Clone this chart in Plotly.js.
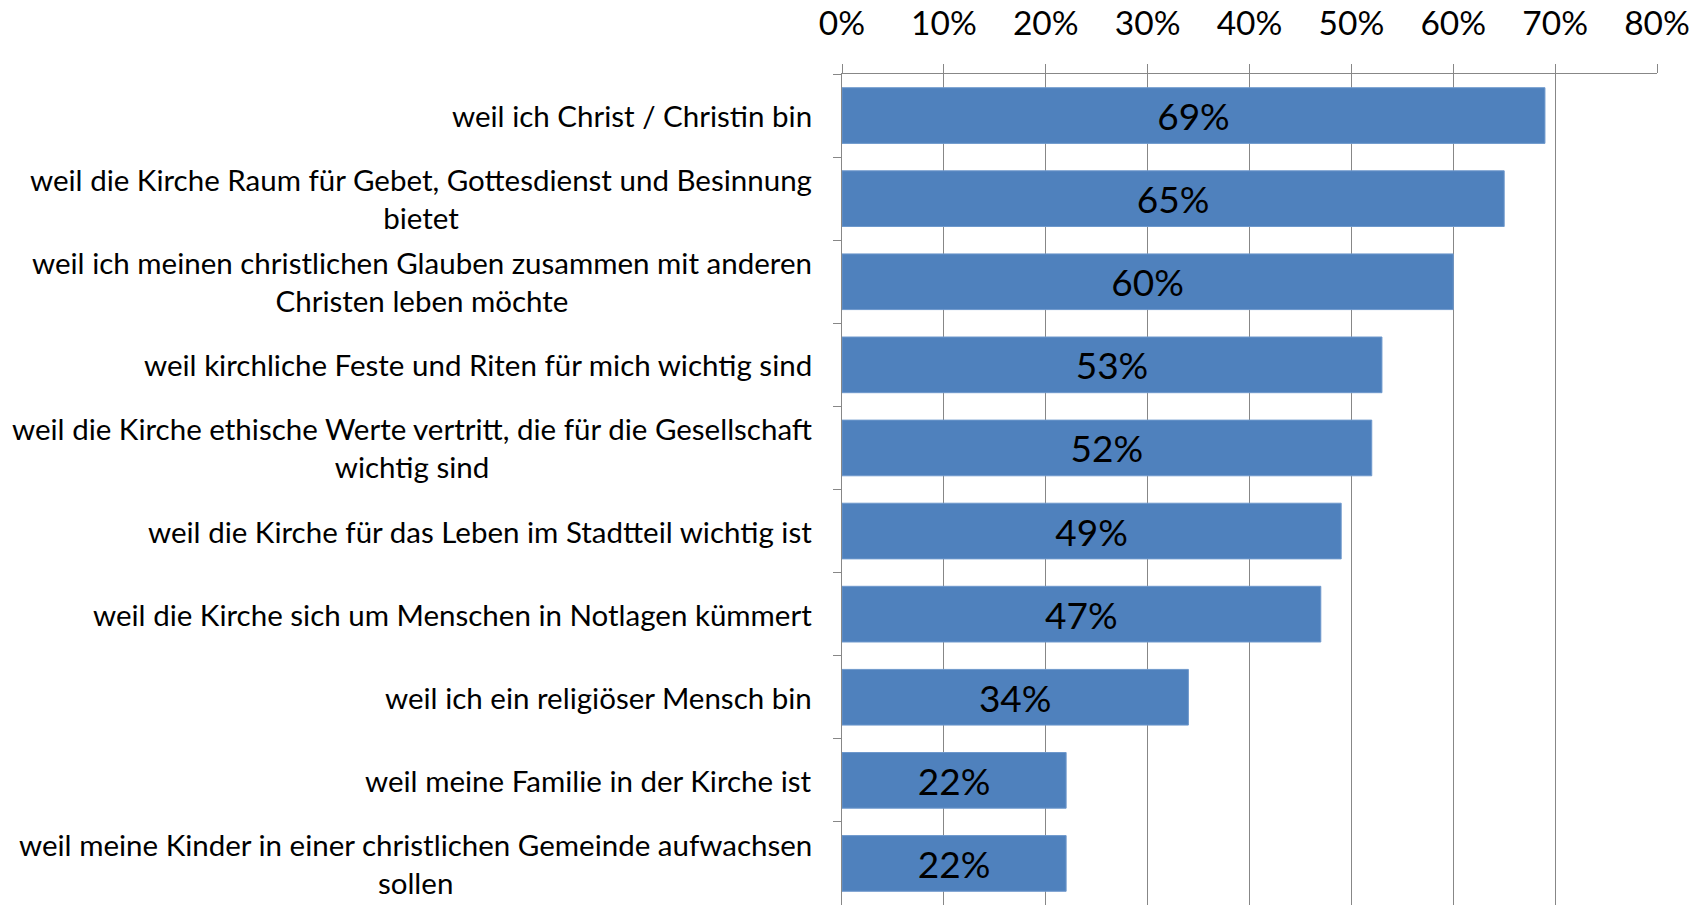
<!DOCTYPE html>
<html>
<head>
<meta charset="utf-8">
<script src="https://cdn.plot.ly/plotly-3.0.1.min.js"></script>
<style>
html,body{margin:0;padding:0;background:#fff;}
#chart{width:1707px;height:905px;}
</style>
</head>
<body>
<div id="chart"></div>
<script>
const categories = [
  "weil ich Christ / Christin bin",
  "weil die Kirche Raum für Gebet, Gottesdienst und Besinnung<br>bietet",
  "weil ich meinen christlichen Glauben zusammen mit anderen<br>Christen leben möchte",
  "weil kirchliche Feste und Riten für mich wichtig sind",
  "weil die Kirche ethische Werte vertritt, die für die Gesellschaft<br>wichtig sind",
  "weil die Kirche für das Leben im Stadtteil wichtig ist",
  "weil die Kirche sich um Menschen in Notlagen kümmert",
  "weil ich ein religiöser Mensch bin",
  "weil meine Familie in der Kirche ist",
  "weil meine Kinder in einer christlichen Gemeinde aufwachsen<br>sollen"
];
const values = [69, 65, 60, 53, 52, 49, 47, 34, 22, 22];
const tickValues = [0, 10, 20, 30, 40, 50, 60, 70, 80];
const tickLabels = ["0%", "10%", "20%", "30%", "40%", "50%", "60%", "70%", "80%"];

const FONT = "Lato, 'Open Sans', sans-serif";
const GRID = "#878787";
const ids = categories.map((c, i) => i);

const trace = {
  type: "bar",
  orientation: "h",
  y: ids,
  x: values,
  width: 0.67,
  marker: {color: "#4F81BD", line: {color: "#6E98CC", width: 1}},
  text: values.map(v => v + "%"),
  textposition: "inside",
  insidetextanchor: "middle",
  textangle: 0,
  constraintext: "none",
  textfont: {family: FONT, size: 37, color: "#000"},
  hoverinfo: "skip"
};

const annotations = categories.map((c, i) => ({
  xref: "paper", yref: "y",
  x: 0, y: i,
  xanchor: "right", yanchor: "middle",
  xshift: -28,
  align: "center",
  showarrow: false,
  text: c,
  font: {family: FONT, size: 29.5, color: "#000"}
}));

const layout = {
  width: 1707, height: 905,
  margin: {l: 842, r: 50, t: 74, b: 0, pad: 0},
  paper_bgcolor: "#fff",
  plot_bgcolor: "#fff",
  showlegend: false,
  bargap: 0.33,
  font: {family: FONT, color: "#000"},
  xaxis: {
    side: "top",
    range: [0, 80],
    tickvals: tickValues,
    ticktext: tickLabels,
    showgrid: true,
    gridcolor: GRID,
    gridwidth: 1,
    showline: true,
    linecolor: GRID,
    linewidth: 1,
    ticks: "outside",
    ticklen: 9,
    tickcolor: GRID,
    ticklabelstandoff: 16,
    tickfont: {family: FONT, size: 33.5, color: "#000"},
    zeroline: false,
    fixedrange: true
  },
  yaxis: {
    type: "linear",
    range: [9.5, -0.5],
    tickvals: [-0.5, 0.5, 1.5, 2.5, 3.5, 4.5, 5.5, 6.5, 7.5, 8.5, 9.5],
    showticklabels: false,
    ticks: "outside",
    ticklen: 8,
    tickcolor: GRID,
    showline: true,
    linecolor: GRID,
    linewidth: 1,
    showgrid: false,
    zeroline: false,
    fixedrange: true
  },
  annotations: annotations
};

Plotly.newPlot("chart", [trace], layout, {displayModeBar: false, staticPlot: true});
</script>
</body>
</html>
